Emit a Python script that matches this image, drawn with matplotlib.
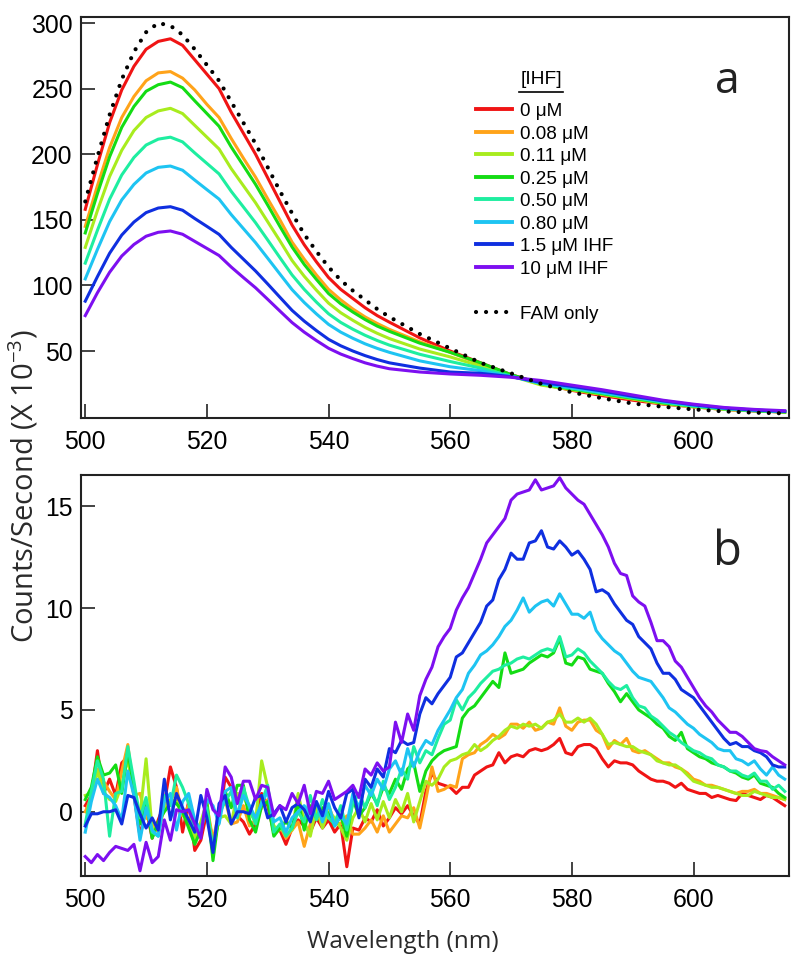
import matplotlib
matplotlib.use("Agg")
import matplotlib.pyplot as plt
from matplotlib.lines import Line2D

# ---------------- data : panel a ----------------
wl_a = [500, 502, 504, 506, 508, 510, 512, 514, 516, 518, 520, 522, 524, 526, 528,
        530, 532, 534, 536, 538, 540, 542, 544, 546, 548, 550, 555, 560, 565, 570,
        575, 580, 585, 590, 595, 600, 605, 610, 615]

a_0 = [158, 192, 224, 249, 267, 280, 286, 288, 283, 272, 261, 250, 232, 216, 200,
       182, 164, 146, 131, 118, 106, 97, 90, 83, 77, 72, 60, 50, 41, 32,
       25, 20, 16, 12.5, 9.5, 7.5, 5.5, 4.3, 3.5]
a_008 = [145, 176, 205, 228, 244, 256, 262, 263, 258, 249, 238, 228, 212, 197, 182.5,
         166, 150, 133, 120, 108, 97, 89, 82, 76, 71, 66.5, 57, 49, 40, 31.5,
         24.5, 20.5, 17, 13.5, 10, 7.5, 5.5, 4.5, 3.5]
a_011 = [129, 157, 183, 203, 218, 228, 233, 235, 231, 222, 213, 204, 189, 176, 163,
         148.5, 134, 119, 107, 96.4, 86.5, 79.2, 73.4, 68, 63.5, 59.5, 51.5, 45.5, 38.5, 31,
         24, 20.5, 17, 13.5, 10, 7.5, 5.5, 4.5, 3.5]
a_025 = [140, 170, 198, 220.5, 236.4, 248, 253, 255, 250.7, 240.7, 231, 221.3, 205.5, 191.3, 177,
         161.2, 145, 129.3, 116, 104.6, 93.8, 86, 79.7, 74, 69, 65, 56, 49, 41, 32,
         25, 21, 17.5, 14, 10.5, 8, 6, 4.5, 3.5]
a_050 = [117, 142, 165.7, 184.2, 197.5, 207, 211.5, 213, 209.4, 201, 193, 185, 171.7, 159.8, 147.8,
         134.6, 121.2, 108, 97, 87.3, 78.4, 71.8, 66.6, 62, 58, 54.5, 47.5, 42, 37, 31,
         25, 21.5, 18, 14.5, 11, 8, 6, 4.5, 3.8]
a_080 = [105, 127.4, 148.6, 165.2, 177, 185.7, 190, 191, 187.8, 180.3, 173, 165.8, 154, 143.3, 132.6,
         120.7, 108.7, 96.8, 87, 78.3, 70.3, 64.4, 59.7, 55.5, 52, 49, 42.5, 38, 35, 30.5,
         25.5, 22, 18.5, 15, 11.5, 8.5, 6.5, 5, 4]
a_15 = [88, 106.7, 124.5, 138.4, 148.3, 155.5, 159, 160, 157.3, 151, 145, 138.9, 129, 120, 111,
        101.1, 91, 81, 72.8, 65.6, 58.9, 54, 50, 46.5, 43.5, 41, 37, 34, 33, 30.5,
        26, 23, 19.5, 15.5, 12, 9, 6.5, 5, 4]
a_10 = [77, 94.4, 110, 122.4, 131.2, 137.5, 140.5, 141.5, 139, 133.6, 128.2, 122.8, 114, 106, 98.2,
        89.4, 80.5, 71.7, 64.4, 58, 52.1, 47.7, 44.2, 41, 38.5, 36.5, 34, 32.5, 31.5, 30,
        27.5, 24, 20.5, 16.5, 12.5, 9.5, 7, 5.5, 4.5]
a_fam = [164, 198, 230, 257, 278, 293, 300, 298, 291, 280, 268, 256, 240, 224, 208,
         190, 172, 155, 139, 126, 114, 104, 96, 89, 82, 76, 63, 52, 41, 33,
         25, 18.5, 14, 10, 7.5, 5.5, 4, 3, 2.5]

# ---------------- data : panel b ----------------
wl_b = list(range(500, 616))

b_0 = [0.3, 0.8, 3.0, 0.9, 1.6, 0.8, 2.4, 2.7, 0.8, -1.2, 0.2, -1.3, -0.4, 0.4, 2.2, 1.2, -1.0, 0.5, -1.9, -1.4,
       0.0, -1.4, -0.5, 1.7, 1.2, -0.2, -0.5, -1.1, -0.6, 0.9, 0.3, -1.0, -0.9, -1.6, -0.8, -0.4, -0.7, -1.0, -0.3, -0.8,
       -0.4, -1.0, -0.6, -2.7, -0.8, -0.9, -0.3, -0.5, 0.1, -0.7, -0.3, 0.2, -0.1, 0.3, -0.2, -0.6, 1.0, 1.9, 1.4, 1.3,
       1.2, 0.9, 1.2, 1.2, 1.8, 2.0, 2.2, 2.3, 2.9, 2.4, 2.7, 2.8, 2.7, 3.0, 3.1, 3.0, 3.1, 3.3, 3.6, 2.9,
       2.8, 3.2, 3.3, 3.3, 3.1, 2.6, 2.2, 2.5, 2.4, 2.4, 2.3, 2.0, 1.8, 1.6, 1.5, 1.5, 1.4, 1.2, 1.4, 1.1,
       1.0, 0.9, 0.9, 0.7, 0.8, 0.7, 0.6, 0.55, 0.9, 0.8, 0.7, 0.6, 0.8, 0.7, 0.5, 0.3]
b_008 = [0.0, 0.7, 2.1, 1.5, 1.0, 0.6, 2.0, 3.3, 0.8, 0.9, -0.3, -0.5, -1.0, 0.2, 0.5, 1.2, -0.2, 0.3, -1.4, -0.7,
         0.3, -1.4, 0.0, 0.6, -0.6, -0.5, 0.3, -0.7, -0.4, 0.2, 0.6, -1.0, -0.7, -1.3, -0.9, -0.5, -1.7, -0.6, -0.2, -0.4,
         0.3, -0.5, -0.6, -0.2, -1.1, -1.1, -0.8, -0.4, -1.0, -0.2, -1.0, -0.6, -0.2, -0.3, 0.2, -0.8, 0.6, 2.2, 1.0, 1.1,
         1.3, 1.2, 2.6, 2.8, 2.9, 3.3, 3.5, 3.8, 3.6, 3.8, 4.3, 4.3, 4.1, 4.4, 4.0, 4.1, 4.4, 4.3, 5.1, 4.2,
         4.0, 4.4, 4.5, 4.5, 4.0, 3.8, 3.1, 3.5, 3.3, 3.6, 3.0, 2.9, 3.0, 2.8, 2.6, 2.4, 2.4, 2.2, 2.1, 1.9,
         1.6, 1.5, 1.3, 1.3, 1.2, 1.1, 1.0, 0.9, 1.0, 1.0, 1.1, 0.9, 0.9, 0.8, 0.7, 0.6]
b_011 = [0.8, 0.9, 2.0, 1.0, 0.6, 0.5, 1.3, 2.6, 0.9, -0.2, 2.6, -0.9, -0.7, 0.3, 0.6, 0.5, -0.1, -0.6, -1.3, -0.5,
         0.5, -1.9, -0.3, -0.2, -0.6, 0.9, 0.8, 0.0, -0.5, 2.5, 1.2, -0.7, -0.9, -0.4, -0.9, 0.9, -0.5, -1.2, 0.2, -0.8,
         0.0, -0.3, -0.8, -1.4, -0.3, 0.2, -0.5, 0.4, -0.4, 0.5, -0.3, 0.6, 0.0, 0.9, -0.5, 0.5, 1.5, 1.3, 1.6, 2.2,
         2.5, 2.6, 2.8, 2.9, 3.3, 3.0, 3.2, 3.5, 3.7, 4.0, 4.2, 4.1, 4.3, 4.2, 4.3, 4.1, 4.4, 4.5, 4.8, 4.4,
         4.4, 4.6, 4.4, 4.6, 4.3, 3.8, 3.3, 3.4, 3.3, 3.2, 3.2, 3.0, 2.9, 2.8, 2.5, 2.4, 2.3, 2.3, 2.1, 1.8,
         1.5, 1.4, 1.3, 1.2, 1.2, 1.1, 1.0, 0.9, 0.8, 0.8, 1.0, 0.9, 0.8, 0.7, 0.7, 0.6]
b_025 = [0.6, 1.2, 2.7, 1.8, 1.9, 2.3, 0.9, 3.0, 1.1, -0.6, 0.5, -1.3, -0.5, 0.0, 0.4, 0.4, 0.0, -0.8, -1.6, -0.9,
         0.4, -2.4, -0.1, 1.0, 0.2, 1.3, 1.3, -0.4, -1.0, 0.3, 0.5, -1.2, -0.8, -0.5, -0.8, 0.5, -0.9, 0.3, -0.3, 0.2,
         -0.1, -0.7, -0.2, -1.2, 0.6, -0.2, 0.2, 0.9, 0.4, 1.2, 0.9, 1.6, 1.1, 2.1, 2.4, 1.0, 2.0, 2.5, 2.8, 3.0,
         3.1, 3.2, 4.6, 5.0, 5.2, 5.6, 6.0, 6.4, 6.1, 7.8, 6.8, 6.9, 7.0, 7.3, 7.5, 7.7, 7.6, 7.8, 8.5, 7.3,
         7.2, 7.6, 7.5, 7.0, 6.9, 6.8, 6.3, 5.9, 5.4, 5.8, 5.4, 5.0, 4.8, 4.6, 4.3, 4.1, 3.7, 3.5, 3.9, 3.1,
         2.9, 2.7, 2.6, 2.4, 2.3, 2.2, 2.0, 1.9, 1.7, 1.6, 1.8, 1.4, 1.3, 1.2, 0.9, 0.7]
b_050 = [-0.6, 1.0, 2.5, 1.6, -1.2, 0.9, 1.0, 3.2, 1.5, -0.3, 0.7, -1.0, -1.2, 0.8, 0.3, 1.8, 1.2, 0.4, -1.0, -0.9,
         0.2, -1.8, -0.1, 0.5, 1.0, -0.3, 1.2, 0.2, -0.6, 0.5, 1.3, -1.0, -0.6, -1.2, -0.8, 0.0, -0.5, 0.8, -0.4, 0.6,
         -0.3, -0.6, 0.3, -0.9, 0.4, 0.9, 0.2, 1.1, 0.3, 1.5, 0.6, 1.2, 2.1, 1.6, 3.2, 2.4, 3.0, 2.8, 3.6, 4.3,
         4.5, 5.5, 5.0, 5.6, 5.9, 6.3, 6.6, 6.9, 7.0, 7.2, 7.3, 7.5, 7.6, 7.5, 7.7, 7.9, 8.0, 7.9, 8.6, 7.6,
         7.7, 8.0, 7.8, 7.4, 7.1, 6.8, 6.4, 6.1, 6.0, 6.2, 5.6, 5.2, 5.1, 4.7, 4.5, 4.2, 3.9, 3.7, 3.4, 3.2,
         3.0, 2.9, 2.7, 2.6, 2.3, 2.2, 2.0, 2.0, 1.8, 1.7, 1.9, 1.5, 1.5, 1.1, 1.3, 1.0]
b_080 = [-1.0, 0.5, 1.6, 0.9, 0.7, 0.3, -0.4, 2.0, 0.8, -1.4, 0.2, -0.9, -1.2, 0.5, 0.9, -0.9, 0.5, 0.9, -0.4, -0.9,
         0.6, 0.3, -0.6, 1.0, 1.2, -0.2, 0.8, 0.3, -0.3, 0.4, 1.0, -0.5, -0.3, -1.0, -0.3, 0.0, 0.3, -0.2, 0.5, -0.5,
         0.4, -0.7, -0.2, -0.6, 0.9, 0.2, 1.3, 0.8, 1.6, 1.1, 2.1, 2.5, 1.8, 3.1, 2.2, 3.0, 3.5, 3.3, 4.0, 4.5,
         5.0, 5.6, 6.0, 6.8, 7.2, 7.7, 7.9, 8.2, 8.6, 9.1, 9.4, 9.9, 10.5, 9.8, 10.1, 10.3, 10.4, 10.1, 10.7, 10.2,
         9.7, 9.7, 9.5, 9.8, 8.9, 8.5, 8.2, 7.9, 7.7, 7.3, 6.9, 6.6, 6.5, 6.4, 6.0, 5.6, 5.1, 4.9, 4.6, 4.3,
         4.1, 3.8, 3.6, 3.4, 3.1, 3.0, 3.0, 2.6, 2.5, 2.3, 2.5, 2.1, 1.8, 2.2, 1.8, 1.6]
b_15 = [-0.7, -0.1, -0.1, 0.0, 0.0, 0.1, -0.6, 0.8, 0.7, -0.1, -0.8, -0.3, -0.9, 1.6, -0.4, 0.9, 0.2, -0.4, -1.0, 0.8,
        -0.3, -2.0, 0.4, 0.8, -0.6, 0.0, 0.0, -0.1, 0.7, 0.8, -0.3, -0.1, 0.3, -0.5, 0.2, 0.4, 0.1, -0.5, 0.5, -0.2,
        1.0, 0.2, -0.3, 0.9, 1.1, -0.3, 1.6, 1.2, 2.1, 1.7, 3.1, 2.9, 3.5, 3.3, 3.4, 4.8, 5.6, 5.3, 5.8, 6.2,
        6.6, 7.6, 7.8, 8.3, 8.8, 9.3, 10.1, 10.4, 11.4, 11.9, 12.7, 12.4, 12.4, 13.2, 13.3, 13.8, 13.0, 12.9, 13.3, 13.0,
        12.6, 12.8, 12.4, 11.9, 10.8, 10.9, 10.7, 10.2, 9.8, 9.4, 9.2, 8.6, 8.3, 8.0, 7.3, 6.8, 6.8, 6.5, 6.0, 5.8,
        5.6, 5.2, 4.8, 4.4, 4.0, 3.6, 3.3, 3.4, 3.2, 3.2, 3.0, 2.9, 2.7, 2.3, 2.2, 2.2]
b_10 = [-2.2, -2.5, -2.1, -2.4, -2.0, -1.7, -1.8, -1.9, -1.6, -2.9, -1.5, -2.5, -2.2, -0.4, -1.4, 0.1, 0.0, 0.1, -0.6, -1.3,
        1.1, 0.1, -0.2, 2.2, 1.7, 0.4, 1.5, 1.5, 0.6, 1.3, 1.2, -0.2, 0.3, 0.1, 0.9, 0.4, 1.3, -0.1, 1.0, 0.9,
        1.5, 0.6, 0.8, 1.0, 1.3, 0.7, 2.1, 1.8, 2.4, 2.0, 2.2, 4.4, 3.4, 4.8, 4.0, 5.7, 6.5, 7.1, 8.1, 8.6,
        9.0, 9.9, 10.5, 11.0, 11.7, 12.4, 13.2, 13.6, 14.0, 14.4, 15.3, 15.6, 15.7, 15.8, 16.3, 15.8, 15.9, 16.0, 16.4, 15.9,
        15.6, 15.3, 15.1, 14.6, 14.1, 13.6, 13.0, 12.2, 11.7, 11.6, 10.6, 10.3, 10.1, 9.3, 8.4, 8.4, 8.1, 7.4, 7.1, 6.6,
        6.1, 5.6, 5.2, 4.9, 4.5, 4.2, 3.9, 3.9, 3.7, 3.4, 3.1, 3.0, 2.95, 2.7, 2.5, 2.3]

labels = ["0 \u03bcM", "0.08 \u03bcM", "0.11 \u03bcM", "0.25 \u03bcM",
          "0.50 \u03bcM", "0.80 \u03bcM", "1.5 \u03bcM IHF", "10 \u03bcM IHF"]
colors = ["#f01414", "#ffa31a", "#a8ec1e", "#14dc14", "#1eeea0", "#1ec4f2", "#0f2fe0", "#7d0ff0"]
series_a = [a_0, a_008, a_011, a_025, a_050, a_080, a_15, a_10]
series_b = [b_0, b_008, b_011, b_025, b_050, b_080, b_15, b_10]

# ---------------- figure ----------------
TICKFONT = "Liberation Sans"
LABFONT = "Open Sans"
plt.rcParams["font.family"] = [TICKFONT, "DejaVu Sans"]
plt.rcParams["mathtext.fontset"] = "custom"
plt.rcParams["mathtext.rm"] = LABFONT
plt.rcParams["mathtext.it"] = LABFONT
plt.rcParams["mathtext.bf"] = LABFONT

fig = plt.figure(figsize=(8.0, 9.65), dpi=100)
ax1 = fig.add_axes([0.10125, 0.56684, 0.885, 0.41554])
ax2 = fig.add_axes([0.10125, 0.09254, 0.885, 0.41554])

LW = 2.2
DOTS = (0, (0.01, 2.4))
for ax in (ax1, ax2):
    for s in ax.spines.values():
        s.set_linewidth(1.5)
        s.set_color("#222222")
    ax.tick_params(direction="in", length=10, width=1.2, color="#222222",
                   labelsize=17.8)
    ax.tick_params(axis="x", pad=9)
    ax.tick_params(axis="y", pad=6)
    ax.set_xlim(499.3, 615.7)
    ax.set_xticks([500, 520, 540, 560, 580, 600])

# panel a
for ys, c, lab in zip(series_a, colors, labels):
    ax1.plot(wl_a, ys, color=c, lw=LW, label=lab, solid_joinstyle="round")
ax1.plot(wl_a, a_fam, color="black", lw=3.0, linestyle=DOTS,
         dash_capstyle="round", label="FAM only")
ax1.set_ylim(-1.05, 304.6)
ax1.set_yticks([50, 100, 150, 200, 250, 300])

handles = [Line2D([], [], color=c, lw=2.8) for c in colors]
handles += [Line2D([], [], color="none"),
            Line2D([], [], color="black", lw=3.0, linestyle=DOTS, dash_capstyle="round")]
ax1.legend(handles, labels + [" ", "FAM only"], loc="upper left",
           bbox_to_anchor=(0.5579, 0.786), frameon=False, fontsize=13.6,
           handlelength=1.9, handletextpad=0.42, labelspacing=0.28,
           borderpad=0, borderaxespad=0)

ax1.text(0.6507, 0.8429, "[IHF]", transform=ax1.transAxes, ha="center", va="center",
         fontsize=13.8, family=[TICKFONT])
ax1.plot([0.6186, 0.6808], [0.8135, 0.8135], transform=ax1.transAxes, color="black",
         lw=1.2, clip_on=False)
ax1.text(0.9124, 0.8097, "a", transform=ax1.transAxes, ha="center", va="baseline",
         fontsize=32, family=[LABFONT], color="#222222")

# panel b
for ys, c in zip(series_b, colors):
    ax2.plot(wl_b, ys, color=c, lw=LW, solid_joinstyle="round")
ax2.set_ylim(-3.14, 16.55)
ax2.set_yticks([0, 5, 10, 15])
ax2.text(0.9124, 0.7748, "b", transform=ax2.transAxes, ha="center", va="baseline",
         fontsize=34, family=[LABFONT], color="#222222")

fig.text(0.503, 0.0238, "Wavelength (nm)", ha="center", va="center", fontsize=17.5,
         family=[LABFONT], color="#2a2a2a")
fig.text(0.030, 0.4964, r"Counts/Second (X 10$^{\mathrm{-3}}$)", ha="center", va="center",
         rotation=90, fontsize=21, family=[LABFONT], color="#2a2a2a")

fig.savefig("out.png", dpi=100)
